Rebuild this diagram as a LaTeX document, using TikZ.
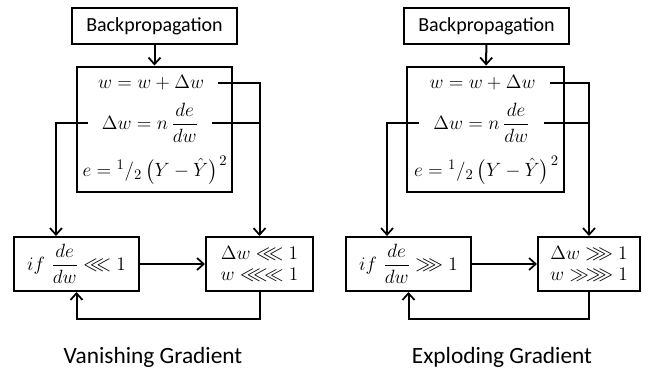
\documentclass[tikz,border=0pt]{standalone}
\usepackage{amsmath,amssymb}
\usepackage{fontspec}
\usepackage{xcolor}
\usepackage{tikz}
\usetikzlibrary{calc,arrows.meta}
\newfontfamily\labelfont{Carlito}
\definecolor{ink}{HTML}{000000}
\tikzset{
  box/.style={draw=ink, line width=1.5pt, inner sep=0pt},
  eq/.style={inner sep=0pt, font=\fontsize{15.5}{18}\selectfont},
  wire/.style={draw=ink, line width=1.5pt},
  flow/.style={wire, -{Straight Barb[length=5pt,width=9pt,line width=1.3pt]}},
  labb/.style={font=\labelfont\fontsize{15}{18}\selectfont},
  labt/.style={font=\labelfont\fontsize{17.5}{21}\selectfont}
}

\begin{document}
\begin{tikzpicture}[x=0.75pt,y=-0.75pt]
  \useasboundingbox (0,0) rectangle (648,369);

  % vanishing gradient
  \node[box, labb, minimum width=123.75pt, minimum height=27pt] (vback) at (154.5,26) {Backpropagation};
  \node[box, minimum width=116.25pt, minimum height=93.75pt] (vmain) at (154.5,129) {};
  \node[eq] (veqa) at (151,83) {$w = w + \Delta w$};
  \node[eq] (veqb) at (150,123) {$\Delta w = n\,\dfrac{de}{dw}$};
  \node[eq] (veqc) at (155,170) {$e = {}^{1}/_{2}\,\bigl(Y-\hat{Y}\bigr)^{\mkern2mu 2}$};
  \node[box, eq, minimum width=93.75pt, minimum height=40.5pt] (vcond) at (76.5,264) {$if\ \dfrac{de}{dw} \lll 1$};
  \node[box, eq, align=center, minimum width=80.25pt, minimum height=40.5pt] (vres) at (259.5,264) {$\Delta w \lll 1$\\[-2pt]$w \lll\!\ll 1$};

  \draw[flow] (vback) -- (vmain);
  \draw[flow] ([xshift=10.5pt]veqa.east) -| (vres.north);
  \draw[wire] ([xshift=10.5pt]veqb.east) -- (veqb.east -| vres.north);
  \draw[flow] ([xshift=-10.5pt]veqb.west) -| ([xshift=-15.4pt]vcond.north);
  \draw[flow] (vcond) -- (vres);
  \draw[flow] (vres.south) -- ++(0,26.5) -| (vcond.south);
  \node[labt] (vtitle) at (153,357) {Vanishing Gradient};

  % exploding gradient
  \node[box, labb, minimum width=123.75pt, minimum height=27pt] (xback) at (486.5,26) {Backpropagation};
  \node[box, minimum width=117.75pt, minimum height=93.75pt] (xmain) at (485.5,129) {};
  \node[eq] (xeqa) at (482.5,83) {$w = w + \Delta w$};
  \node[eq] (xeqb) at (481.5,123) {$\Delta w = n\,\dfrac{de}{dw}$};
  \node[eq] (xeqc) at (486.5,170) {$e = {}^{1}/_{2}\,\bigl(Y-\hat{Y}\bigr)^{\mkern2mu 2}$};
  \node[box, eq, minimum width=93.75pt, minimum height=40.5pt] (xcond) at (408.5,264) {$if\ \dfrac{de}{dw} \ggg 1$};
  \node[box, eq, align=center, minimum width=76.5pt, minimum height=40.5pt] (xres) at (589,264) {$\Delta w \ggg 1$\\[-2pt]$w \gg\!\ggg 1$};

  \draw[flow] (xback) -- (xmain);
  \draw[flow] ([xshift=10.5pt]xeqa.east) -| (xres.north);
  \draw[wire] ([xshift=10.5pt]xeqb.east) -- (xeqb.east -| xres.north);
  \draw[flow] ([xshift=-10.5pt]xeqb.west) -| ([xshift=-16.1pt]xcond.north);
  \draw[flow] (xcond) -- (xres);
  \draw[flow] (xres.south) -- ++(0,26.5) -| (xcond.south);
  \node[labt] (xtitle) at (502,357) {Exploding Gradient};
\end{tikzpicture}
\end{document}
